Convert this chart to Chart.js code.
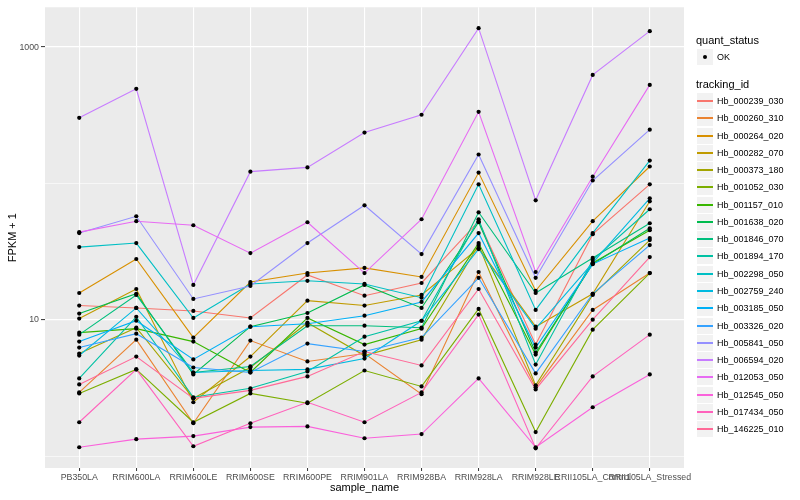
<!DOCTYPE html>
<html>
<head>
<meta charset="utf-8">
<script src="https://cdn.jsdelivr.net/npm/chart.js@4/dist/chart.umd.min.js"></script>
<style>
  body { margin: 0; background: #fff; font-family: "Liberation Sans", Arial, sans-serif; }
  #wrap { position: relative; width: 800px; height: 500px; }
  #legend { position: absolute; left: 0; top: 0; width: 800px; height: 500px; pointer-events: none; }
  .ltitle { position: absolute; left: 696px; font-size: 11px; line-height: 13px; color: #000; }
  .lkey { position: absolute; left: 697px; width: 16px; height: 16px; background: #F2F2F2; }
  .lline { position: absolute; left: 0; top: 7px; width: 16px; height: 2px; }
  .ldot { position: absolute; left: 6px; top: 6px; width: 4px; height: 4px; border-radius: 2px; background: #000; }
  .ltext { position: absolute; left: 717px; font-size: 9px; line-height: 11px; color: #000; }
</style>
</head>
<body>
<div id="wrap">
  <canvas id="chart" width="800" height="500"></canvas>
  <div id="legend"></div>
</div>
<script>
const samples = ['PB350LA', 'RRIM600LA', 'RRIM600LE', 'RRIM600SE', 'RRIM600PE', 'RRIM901LA',
    'RRIM928BA', 'RRIM928LA', 'RRIM928LE', 'RRII105LA_Control', 'RRII105LA_Stressed'];

const trackingIds = ['Hb_000239_030', 'Hb_000260_310', 'Hb_000264_020', 'Hb_000282_070', 'Hb_000373_180',
    'Hb_001052_030', 'Hb_001157_010', 'Hb_001638_020', 'Hb_001846_070', 'Hb_001894_170',
    'Hb_002298_050', 'Hb_002759_240', 'Hb_003185_050', 'Hb_003326_020', 'Hb_005841_050',
    'Hb_006594_020', 'Hb_012053_050', 'Hb_012545_050', 'Hb_017434_050', 'Hb_146225_010'];

// FPKM + 1 per sample
const hb_000239_030 = [12.7, 12.2, 11.6, 10.3, 21.3, 15.0, 18.6, 52.8, 6.57, 42.4, 98.4];
const hb_000260_310 = [2.93, 7.14, 1.74, 7.03, 4.94, 5.65, 2.84, 22.4, 3.19, 11.8, 22.0];
const hb_000264_020 = [15.7, 27.9, 7.39, 18.9, 22.0, 24.0, 20.6, 120, 16.3, 52.8, 133];
const hb_000282_070 = [10.2, 16.8, 2.48, 5.37, 13.8, 12.7, 15.2, 33.5, 8.89, 15.5, 73.9];
const hb_000373_180 = [5.65, 8.74, 2.65, 4.46, 9.51, 5.46, 7.14, 35.3, 3.30, 15.2, 38.4];
const hb_001052_030 = [2.88, 4.32, 1.77, 2.88, 2.44, 4.24, 3.24, 12.0, 1.50, 8.45, 22.0];
const hb_001157_010 = [8.04, 8.6, 6.91, 4.10, 10.3, 6.57, 8.6, 36.5, 5.55, 26.1, 45.4];
const hb_001638_020 = [11.1, 15.5, 3.97, 8.89, 11.2, 18.0, 12.2, 51.9, 5.74, 25.6, 46.9];
const hb_001846_070 = [7.77, 15.2, 4.10, 4.54, 9.04, 9.04, 8.74, 61.4, 15.7, 28.4, 51.0];
const hb_001894_170 = [3.71, 10.5, 2.70, 3.14, 4.17, 7.51, 9.83, 54.6, 4.69, 27.4, 64.6];
const hb_002298_050 = [34.1, 36.5, 10.3, 18.3, 19.3, 18.3, 14.5, 98.4, 11.8, 43.2, 147];
const hb_002759_240 = [5.46, 12.2, 4.10, 4.24, 4.32, 5.19, 9.83, 33.0, 8.6, 26.1, 77.7];
const hb_003185_050 = [6.91, 9.83, 5.11, 8.89, 9.35, 10.7, 13.5, 43.2, 6.25, 25.6, 39.7];
const hb_003326_020 = [6.25, 7.90, 4.46, 4.10, 6.68, 5.84, 7.39, 20.3, 4.04, 15.5, 35.3];
const hb_005841_050 = [43.2, 57.4, 14.2, 17.7, 36.5, 69.1, 30.3, 163, 20.3, 105, 248];
const hb_006594_020 = [303, 494, 18.0, 122, 131, 236, 319, 1376, 75.2, 625, 1309];
const hb_012053_050 = [43.9, 52.8, 49.3, 30.8, 51.9, 22.0, 54.6, 335, 22.4, 112, 528];
const hb_012545_050 = [1.16, 1.33, 1.40, 1.63, 1.65, 1.35, 1.45, 3.71, 1.16, 2.28, 3.97];
const hb_017434_050 = [1.77, 4.32, 1.18, 1.74, 2.48, 1.77, 2.93, 10.9, 1.14, 3.84, 7.77];
const hb_146225_010 = [3.35, 5.37, 2.65, 3.03, 3.84, 5.84, 4.62, 16.8, 3.08, 10.0, 28.8];

const seriesValues = [hb_000239_030, hb_000260_310, hb_000264_020, hb_000282_070, hb_000373_180,
    hb_001052_030, hb_001157_010, hb_001638_020, hb_001846_070, hb_001894_170,
    hb_002298_050, hb_002759_240, hb_003185_050, hb_003326_020, hb_005841_050,
    hb_006594_020, hb_012053_050, hb_012545_050, hb_017434_050, hb_146225_010];

const yTicks = [1, 10, 100, 1000];
const yLabels = ['', '10', '', '1000'];

// ggplot default hue palette, 20 levels
const colors = ['#F8766D', '#EA8331', '#D89000', '#C09B00', '#A3A500', '#7CAE00', '#39B600', '#00BB4E',
    '#00BF7D', '#00C1A3', '#00BFC4', '#00BAE0', '#00B0F6', '#35A2FF', '#9590FF', '#C77CFF',
    '#E76BF3', '#FA62DB', '#FF62BC', '#FF6A98'];

const FONT = '"Liberation Sans", Arial, sans-serif';

const toPoints = vals => vals.map((v, i) => ({x: i + 1, y: v}));

const datasets = seriesValues.map((vals, k) => ({
    label: trackingIds[k],
    data: toPoints(vals),
    borderColor: colors[k],
    borderWidth: 1.1,
    pointRadius: 0,
    fill: false,
    order: 20 - k
}));

// points on top of every line
datasets.push({
    label: 'OK',
    data: seriesValues.flatMap(toPoints),
    showLine: false,
    pointRadius: 2.1,
    pointBackgroundColor: '#000',
    pointBorderWidth: 0,
    order: -1
});

const panelBg = {
    id: 'panelBg',
    beforeDraw(chart) {
        const {ctx, chartArea: a} = chart;
        ctx.save();
        ctx.fillStyle = '#EBEBEB';
        ctx.fillRect(a.left, a.top, a.right - a.left, a.bottom - a.top);
        ctx.restore();
    }
};

new Chart(document.getElementById('chart'), {
    type: 'line',
    data: { datasets: datasets },
    plugins: [panelBg],
    options: {
        responsive: false,
        animation: false,
        layout: { padding: { top: 5, right: 116, bottom: 0, left: 0 } },
        plugins: { legend: { display: false }, tooltip: { enabled: false } },
        scales: {
            x: {
                type: 'linear',
                min: 0.4,
                max: samples.length + 0.6,
                afterBuildTicks: s => { s.ticks = samples.map((_, i) => ({value: i + 1})); },
                afterFit: s => { s.height = 32; },
                border: { display: false },
                grid: { color: '#fff', lineWidth: 1.1, tickColor: '#333', tickLength: 3, tickWidth: 1 },
                ticks: {
                    autoSkip: false, maxRotation: 0, minRotation: 0, padding: 1,
                    color: '#4D4D4D', font: { family: FONT, size: 8.8 },
                    callback: (v, i) => samples[i]
                },
                title: { display: true, text: 'sample_name', color: '#000',
                    font: { family: FONT, size: 11 }, padding: { top: 0, bottom: 5 } }
            },
            y: {
                type: 'logarithmic',
                min: 0.817,
                max: 1959,
                afterBuildTicks: s => { s.ticks = yTicks.map(v => ({value: v})); },
                afterFit: s => { s.width = 45; },
                border: { display: false },
                grid: {
                    color: '#fff',
                    lineWidth: c => (yLabels[c.index] ? 1.2 : 0.6),
                    tickColor: c => (yLabels[c.index] ? '#333' : 'rgba(0,0,0,0)'),
                    tickLength: 4, tickWidth: 1
                },
                ticks: {
                    padding: 2, color: '#4D4D4D', font: { family: FONT, size: 8.8 },
                    callback: (v, i) => yLabels[i]
                },
                title: { display: true, text: 'FPKM + 1', color: '#000',
                    font: { family: FONT, size: 11 }, padding: { top: 6, bottom: 0 } }
            }
        }
    }
});

// legend, ggplot style
const legend = document.getElementById('legend');
function add(cls, top, text) {
    const d = document.createElement('div');
    d.className = cls;
    d.style.top = top + 'px';
    if (text) d.textContent = text;
    legend.appendChild(d);
    return d;
}
add('ltitle', 34, 'quant_status');
add('lkey', 49).appendChild(Object.assign(document.createElement('div'), {className: 'ldot'}));
add('ltext', 52, 'OK');
add('ltitle', 78, 'tracking_id');
trackingIds.forEach((id, k) => {
    const cy = Math.round(101 + k * 17.27);
    const key = add('lkey', cy - 8);
    const line = document.createElement('div');
    line.className = 'lline';
    line.style.backgroundColor = colors[k];
    key.appendChild(line);
    add('ltext', cy - 5, id);
});
</script>
</body>
</html>
